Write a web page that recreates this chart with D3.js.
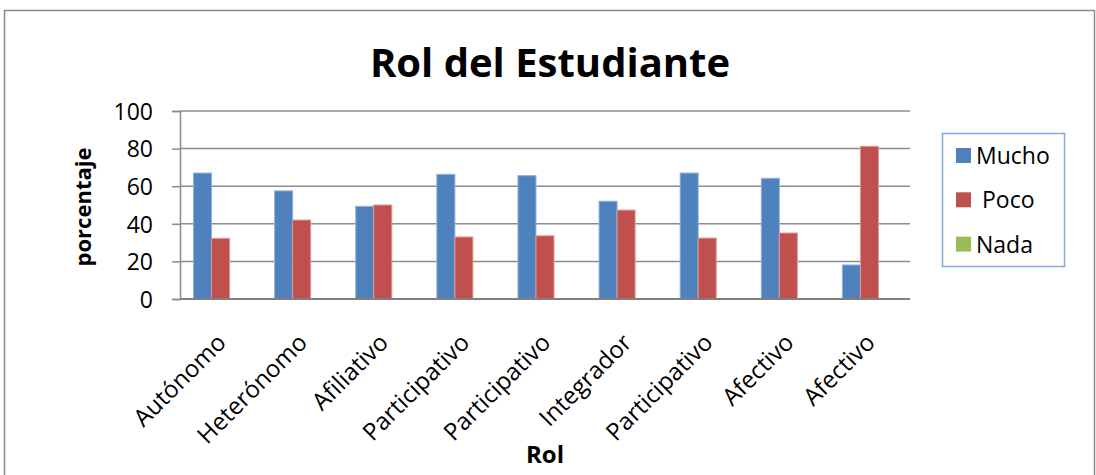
<!DOCTYPE html>
<html>
<head>
<meta charset="utf-8">
<script src="https://cdn.jsdelivr.net/npm/d3@7"></script>
<style>
  body { margin: 0; background: #fff; }
  svg { display: block; font-family: "Open Sans", sans-serif; }
</style>
</head>
<body>
<svg id="chart"></svg>
<script>
const categories = ["Autónomo", "Heterónomo", "Afiliativo", "Participativo", "Participativo",
    "Integrador", "Participativo", "Afectivo", "Afectivo"]
const mucho = [67, 57.5, 49.3, 66.3, 65.6, 52, 67, 64.2, 18.1]
const poco = [32.3, 42, 50, 33, 33.6, 47.3, 32.4, 35.1, 81.2]
const nada = [0, 0, 0, 0, 0, 0, 0, 0, 0]
const seriesNames = ["Mucho", " Poco", "Nada"]
const yTicks = [0, 20, 40, 60, 80, 100]

const colors = ["#4F81BD", "#C0504D", "#9BBB59"]
const edges = ["#8eb0dc", "#e09894", "#c3d89a"]

const w = 1096, h = 475
const m = {l: 180, r: 186, t: 111, b: 176}

const svg = d3.select("#chart")
    .attr("width", w)
    .attr("height", h)

// outer chart border
svg.append("rect")
    .attr("x", 4.5).attr("y", 10.5)
    .attr("width", 1090).attr("height", 480)
    .attr("fill", "none")
    .attr("stroke", "#8a8a8a")
    .attr("stroke-width", 1.5)

svg.append("text")
    .attr("x", 550).attr("y", 77)
    .attr("text-anchor", "middle")
    .attr("font-size", 40)
    .attr("font-weight", "bold")
    .text("Rol del Estudiante")

const x = d3.scaleBand()
    .domain(d3.range(categories.length))
    .range([m.l, w - m.r])

const xSub = d3.scaleBand()
    .domain(d3.range(seriesNames.length))
    .range([0, x.bandwidth()])
    .paddingOuter(0.75)

const y = d3.scaleLinear()
    .domain([0, 100])
    .range([h - m.b, m.t])

// gridlines
svg.append("g")
    .selectAll("line")
    .data(yTicks.filter(d => d > 0))
    .join("line")
    .attr("x1", m.l).attr("x2", w - m.r)
    .attr("y1", d => y(d)).attr("y2", d => y(d))
    .attr("stroke", "#8c8c8c")
    .attr("stroke-width", 1.5)

const yAxis = svg.append("g")
    .attr("transform", `translate(${m.l},0)`)
    .call(d3.axisLeft(y).tickValues(yTicks).tickSize(8).tickPadding(19))
yAxis.select(".domain").attr("stroke", "#8c8c8c").attr("stroke-width", 1.5)
yAxis.selectAll(".tick line").attr("stroke", "#8c8c8c").attr("stroke-width", 1.5)
yAxis.selectAll(".tick text")
    .attr("font-size", 23)
    .attr("font-family", "Open Sans, sans-serif")
    .attr("fill", "#000")
    .attr("dy", "0.36em")

// bars
const allSeries = [mucho, poco, nada]
allSeries.forEach((vals, s) => {
    svg.append("g")
        .selectAll("rect")
        .data(vals)
        .join("rect")
        .attr("x", (d, i) => x(i) + xSub(s))
        .attr("y", d => y(d))
        .attr("width", xSub.bandwidth())
        .attr("height", d => y(0) - y(d))
        .attr("fill", colors[s])
        .attr("stroke", d => d > 0 ? edges[s] : "none")
        .attr("stroke-width", 1)
})

// x axis line
svg.append("line")
    .attr("x1", m.l).attr("x2", w - m.r)
    .attr("y1", y(0)).attr("y2", y(0))
    .attr("stroke", "#808080")
    .attr("stroke-width", 2)

svg.append("g")
    .selectAll("text")
    .data(categories)
    .join("text")
    .attr("transform", (d, i) => `translate(${x(i) + x.bandwidth() / 2 + 7},${y(0) + 45}) rotate(-45)`)
    .attr("text-anchor", "end")
    .attr("font-size", 24)
    .text(d => d)

svg.append("text")
    .attr("x", (m.l + w - m.r) / 2).attr("y", 463)
    .attr("text-anchor", "middle")
    .attr("font-size", 24)
    .attr("font-weight", "bold")
    .text("Rol")

svg.append("text")
    .attr("transform", "translate(91,207) rotate(-90)")
    .attr("text-anchor", "middle")
    .attr("font-size", 22)
    .attr("font-weight", "bold")
    .text("porcentaje")

// legend
const legend = svg.append("g")
legend.append("rect")
    .attr("x", 942.5).attr("y", 133.5)
    .attr("width", 122).attr("height", 133)
    .attr("fill", "#fff")
    .attr("stroke", "#86a8d8")
    .attr("stroke-width", 1.5)

const items = legend.selectAll("g")
    .data(seriesNames)
    .join("g")
    .attr("transform", (d, i) => `translate(956,${164 + i * 44.3})`)
items.append("rect")
    .attr("x", 0).attr("y", -16)
    .attr("width", 15).attr("height", 15)
    .attr("fill", (d, i) => colors[i])
items.append("text")
    .attr("x", 20).attr("y", 0)
    .attr("font-size", 23)
    .style("white-space", "pre")
    .text(d => d)
</script>
</body>
</html>
